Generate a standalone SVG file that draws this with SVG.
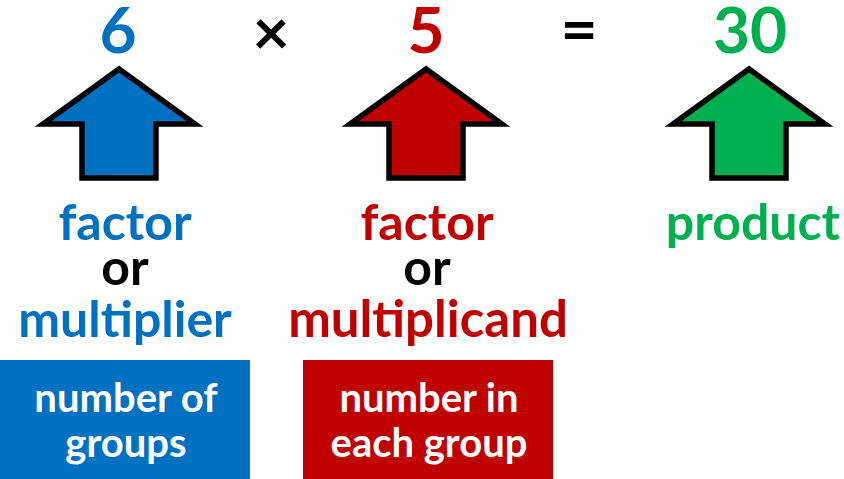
<svg xmlns="http://www.w3.org/2000/svg" width="844" height="479" viewBox="0 0 844 479">
<style>
text{font-family:Lato,"Open Sans","DejaVu Sans",sans-serif;font-weight:bold;text-anchor:middle}
.big{font-size:64px}
.lbl{font-size:50px}
.box{font-size:40px;fill:#fff}
.blue{fill:#0070C0}
.red{fill:#C00000}
.green{fill:#00B050}
.blk{fill:#000}
.arrow{stroke:#000;stroke-width:5.5;stroke-linejoin:miter;stroke-miterlimit:10}
</style>
<defs>
<path id="arr" d="M0,-53 L-76,2 L-37,2 L-37,56 L37,56 L37,2 L76,2 Z"/>
</defs>
<g id="ops">
<text x="271" y="55" class="blk" style="font-size:64px">×</text>
<text x="579" y="52" class="big blk">=</text>
</g>
<g id="factor1">
<text x="118" y="53" class="big blue">6</text>
<use href="#arr" x="119" y="122" class="arrow blue"/>
<text x="125" y="240" class="lbl blue">factor</text>
<text x="125" y="285" class="lbl blk">or</text>
<text x="125" y="337" class="lbl blue">multiplier</text>
<rect x="0" y="360" width="250" height="119" class="blue"/>
<text x="126" y="412" class="box">number of</text>
<text x="126" y="457" class="box">groups</text>
</g>
<g id="factor2">
<text x="426" y="53" class="big red">5</text>
<use href="#arr" x="426" y="122" class="arrow red"/>
<text x="427" y="240" class="lbl red">factor</text>
<text x="427" y="285" class="lbl blk">or</text>
<text x="428" y="337" class="lbl red" style="font-size:51px">multiplicand</text>
<rect x="303" y="360" width="250" height="119" class="red"/>
<text x="429" y="412" class="box">number in</text>
<text x="429" y="457" class="box">each group</text>
</g>
<g id="product">
<text x="750" y="53" class="big green">30</text>
<use href="#arr" x="749" y="122" class="arrow green"/>
<text x="753" y="240" class="lbl green">product</text>
</g>
<g id="connectors"></g>
</svg>
